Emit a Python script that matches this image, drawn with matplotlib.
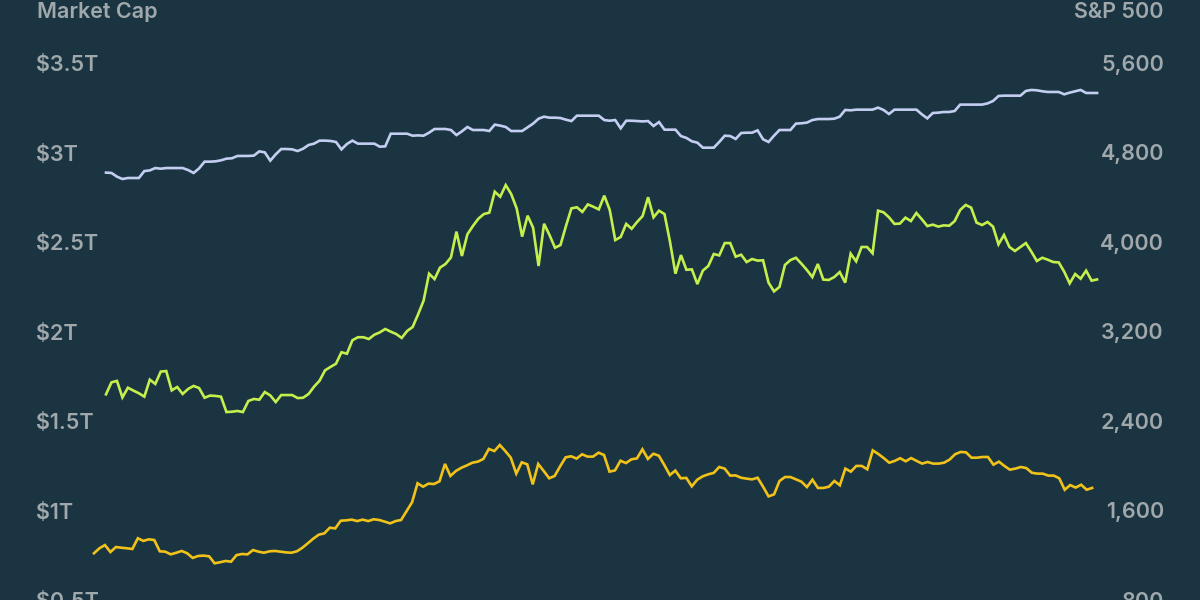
import numpy as np
import matplotlib.pyplot as plt

# Series values
sp500 = [4620, 4617, 4584, 4563, 4572, 4572, 4572, 4634, 4640, 4661, 4655, 4661, 4661, 4661, 4661,
         4643, 4617, 4658, 4718, 4718, 4721, 4730, 4745, 4748, 4769, 4769, 4769, 4772, 4810, 4801,
         4727, 4784, 4831, 4831, 4828, 4813, 4834, 4867, 4879, 4906, 4906, 4903, 4894, 4828, 4876,
         4906, 4879, 4879, 4879, 4879, 4852, 4855, 4968, 4968, 4968, 4968, 4950, 4953, 4950, 4977,
         5010, 5010, 5010, 5001, 4956, 4989, 5028, 5001, 5001, 5001, 4992, 5049, 5040, 5028, 4992,
         4992, 4992, 5025, 5058, 5102, 5120, 5111, 5111, 5108, 5093, 5081, 5129, 5129, 5129, 5129,
         5129, 5090, 5084, 5090, 5016, 5084, 5084, 5081, 5078, 5081, 5037, 5072, 5004, 5004, 5004,
         4947, 4930, 4900, 4888, 4843, 4843, 4843, 4894, 4950, 4947, 4921, 4974, 4977, 4977, 4998,
         4918, 4894, 4950, 5001, 5001, 5001, 5058, 5061, 5067, 5090, 5099, 5099, 5099, 5102, 5120,
         5180, 5177, 5183, 5183, 5183, 5183, 5201, 5180, 5144, 5183, 5183, 5183, 5183, 5183, 5141,
         5105, 5153, 5156, 5162, 5162, 5171, 5228, 5228, 5228, 5228, 5228, 5239, 5260, 5305, 5308,
         5308, 5308, 5308, 5350, 5359, 5356, 5347, 5341, 5341, 5341, 5320, 5335, 5347, 5359, 5332,
         5332, 5332]

cap_green = [1.649, 1.716, 1.724, 1.632, 1.686, 1.670, 1.655, 1.636, 1.731, 1.707, 1.776, 1.779,
             1.671, 1.690, 1.651, 1.679, 1.696, 1.684, 1.630, 1.642, 1.640, 1.636, 1.550, 1.552,
             1.556, 1.550, 1.612, 1.623, 1.619, 1.662, 1.643, 1.606, 1.645, 1.645, 1.645, 1.628,
             1.630, 1.651, 1.692, 1.725, 1.783, 1.802, 1.820, 1.884, 1.876, 1.951, 1.968, 1.968,
             1.958, 1.982, 1.995, 2.014, 1.999, 1.986, 1.964, 2.003, 2.025, 2.096, 2.172, 2.323,
             2.293, 2.357, 2.377, 2.414, 2.558, 2.422, 2.543, 2.589, 2.630, 2.656, 2.664, 2.781,
             2.753, 2.818, 2.768, 2.688, 2.530, 2.647, 2.580, 2.366, 2.602, 2.539, 2.468, 2.483,
             2.589, 2.688, 2.694, 2.668, 2.710, 2.697, 2.682,
             2.759, 2.679, 2.511, 2.528, 2.601, 2.574, 2.612, 2.645, 2.750, 2.638, 2.675, 2.656,
             2.502, 2.323, 2.427, 2.345, 2.347, 2.265, 2.340, 2.366, 2.433, 2.425, 2.494, 2.494,
             2.418, 2.429, 2.388, 2.405, 2.396, 2.398, 2.273, 2.224, 2.249, 2.372, 2.399, 2.412,
             2.379, 2.344, 2.304, 2.377, 2.290, 2.288, 2.304, 2.332, 2.273, 2.435, 2.392, 2.472,
             2.472, 2.437, 2.675, 2.666, 2.638, 2.601, 2.603, 2.636, 2.617, 2.662, 2.627, 2.589,
             2.597, 2.586, 2.593, 2.591, 2.617, 2.679, 2.707, 2.692, 2.608, 2.595, 2.612, 2.586,
             2.487, 2.539, 2.472, 2.450, 2.472, 2.494, 2.446, 2.394, 2.412, 2.401, 2.388, 2.386,
             2.334, 2.269, 2.321, 2.295, 2.340, 2.284, 2.291]

cap_yellow = [0.761, 0.789, 0.807, 0.768, 0.796, 0.792, 0.789, 0.785, 0.845, 0.830, 0.839, 0.835,
              0.772, 0.770, 0.755, 0.764, 0.774, 0.761, 0.735, 0.746, 0.748, 0.744, 0.705, 0.711,
              0.718, 0.714, 0.751, 0.757, 0.755, 0.779, 0.770, 0.764, 0.772, 0.774, 0.770, 0.766,
              0.764, 0.772, 0.792, 0.817, 0.843, 0.865, 0.872, 0.904, 0.900, 0.943, 0.945, 0.949,
              0.941, 0.949, 0.941, 0.951, 0.947, 0.938, 0.928, 0.941, 0.947, 0.997, 1.046, 1.152,
              1.133, 1.150, 1.148, 1.163, 1.260, 1.193, 1.221, 1.239, 1.252, 1.267, 1.273, 1.288,
              1.344, 1.332, 1.366, 1.332, 1.295, 1.206, 1.269, 1.258, 1.146, 1.260, 1.221, 1.180,
              1.193, 1.247, 1.297, 1.303, 1.290, 1.314, 1.301, 1.301, 1.323, 1.310,
              1.217, 1.224, 1.278, 1.265, 1.286, 1.291, 1.342, 1.288, 1.317, 1.306, 1.254, 1.198,
              1.223, 1.180, 1.182, 1.135, 1.172, 1.191, 1.202, 1.210, 1.243, 1.234, 1.195, 1.196,
              1.183, 1.178, 1.174, 1.183, 1.133, 1.079, 1.090, 1.165, 1.187, 1.187, 1.174, 1.161,
              1.131, 1.172, 1.126, 1.126, 1.133, 1.165, 1.141, 1.234, 1.217, 1.249, 1.249, 1.230,
              1.336, 1.316, 1.293, 1.267, 1.277, 1.292, 1.275, 1.293, 1.277, 1.262, 1.271, 1.262,
              1.262, 1.267, 1.284, 1.314, 1.327, 1.325, 1.295, 1.295, 1.299, 1.299, 1.256, 1.273,
              1.249, 1.228, 1.234, 1.243, 1.237, 1.211, 1.206, 1.206, 1.195, 1.195, 1.180, 1.116,
              1.142, 1.128, 1.144, 1.116, 1.126]

left_ticks = [0.5, 1, 1.5, 2, 2.5, 3, 3.5]
left_labels = ['$0.5T', '$1T', '$1.5T', '$2T', '$2.5T', '$3T', '$3.5T']
right_ticks = [800, 1600, 2400, 3200, 4000, 4800, 5600]
right_labels = ['800', '1,600', '2,400', '3,200', '4,000', '4,800', '5,600']

bg = '#1a3541'
txt = '#a0a8ac'
plt.rcParams['font.family'] = ['Inter', 'DejaVu Sans']

fig = plt.figure(figsize=(12, 6), dpi=100, facecolor=bg)
ax = fig.add_axes([0, 0, 1, 1])
ax2 = ax.twinx()
ax.set_facecolor(bg)

# trading-day index for each series
x_main = np.linspace(0, 181, len(cap_green))
x_sp = np.linspace(0, 181, len(sp500))
x_yel = np.linspace(-2.2, 180.1, len(cap_yellow))

ax.plot(x_main, cap_green, color='#c5ef4c', lw=1.9, solid_joinstyle='miter')
ax.plot(x_yel, cap_yellow, color='#f0c21a', lw=1.9, solid_joinstyle='miter')
ax2.plot(x_sp, sp500, color='#c4cef2', lw=1.9, solid_joinstyle='miter')

ax.set_xlim(-19.36, 199.8)
ax.set_ylim(0.5, 3.852)
ax2.set_ylim(800, 6163)

for a in (ax, ax2):
    for s in a.spines.values():
        s.set_visible(False)
    a.tick_params(axis='x', bottom=False, labelbottom=False)

ax.set_yticks(left_ticks, left_labels)
ax.tick_params(axis='y', length=0, pad=-26, labelsize=15.5, labelcolor=txt)
for lb in ax.get_yticklabels():
    lb.set_horizontalalignment('left')
    lb.set_fontweight('semibold')

ax2.set_yticks(right_ticks, right_labels)
ax2.tick_params(axis='y', length=0, pad=-26, labelsize=15.5, labelcolor=txt)
for lb in ax2.get_yticklabels():
    lb.set_horizontalalignment('right')
    lb.set_fontweight('semibold')

ax.text(0.031, 0.98, 'Market Cap', transform=ax.transAxes, color=txt, fontsize=15.5,
        fontweight='semibold', ha='left', va='center')
ax.text(0.97, 0.98, 'S&P 500', transform=ax.transAxes, color=txt, fontsize=15.5,
        fontweight='semibold', ha='right', va='center')

fig.savefig('out.png', dpi=100, facecolor=bg)
